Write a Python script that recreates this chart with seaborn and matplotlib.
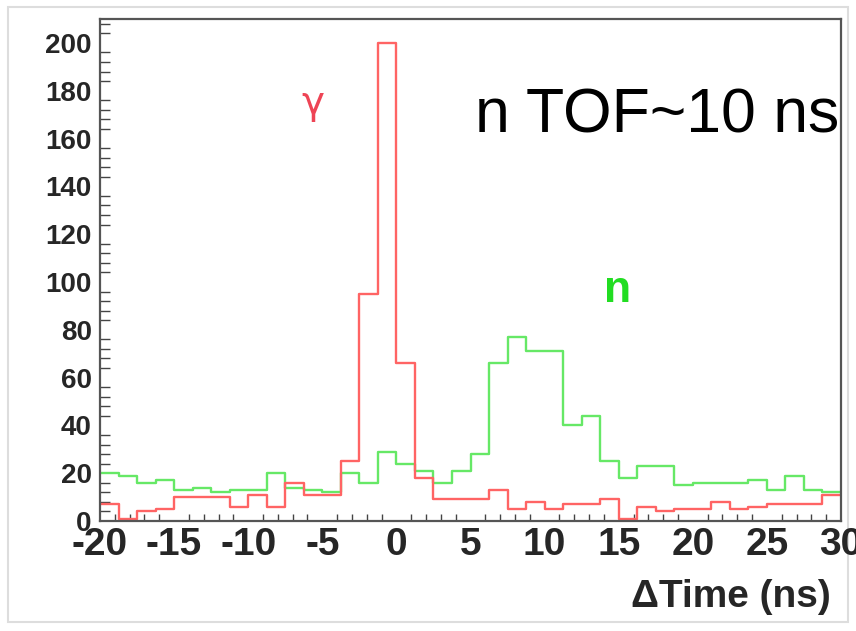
import numpy as np
import pandas as pd
import matplotlib
matplotlib.use("Agg")
import matplotlib.pyplot as plt
from matplotlib.ticker import MultipleLocator
from matplotlib.patches import Rectangle
import seaborn as sns

# ---- data (40 bins of 1.25 ns from -20 to 30 ns) ----
bin_width = 1.25
bin_range = (-20, 30)
bin_centers = np.arange(-20 + bin_width / 2, 30, bin_width)
gamma_counts = [7, 1, 4, 5, 10, 10, 10, 6, 11, 6,
                16, 11, 11, 25, 95, 200, 66, 18, 9, 9,
                9, 13, 5, 8, 5, 7, 7, 9, 1, 6,
                4, 5, 5, 8, 5, 6, 7, 7, 7, 11]
neutron_counts = [20, 19, 16, 17, 13, 14, 12, 13, 13, 20,
                  14, 13, 12, 20, 16, 29, 24, 21, 16, 21,
                  28, 66, 77, 71, 71, 40, 44, 25, 18, 23,
                  23, 15, 16, 16, 16, 17, 13, 19, 13, 12]
x_ticks = [-20, -15, -10, -5, 0, 5, 10, 15, 20, 25, 30]
y_ticks = [0, 20, 40, 60, 80, 100, 120, 140, 160, 180, 200]

df = pd.DataFrame({"t": bin_centers, "gamma": gamma_counts, "n": neutron_counts})

sns.set_style("white")
plt.rcParams["font.family"] = ["Liberation Sans", "DejaVu Sans"]
plt.rcParams["axes.unicode_minus"] = False

W, H = 856, 631
fig = plt.figure(figsize=(W / 100, H / 100), dpi=100)
ax = fig.add_axes([100 / W, 1 - 521 / H, 741 / W, 502 / H])

sns.histplot(data=df, x="t", weights="n", binwidth=bin_width, binrange=bin_range,
             element="step", fill=False, color="#66e866", linewidth=1.7, ax=ax)
sns.histplot(data=df, x="t", weights="gamma", binwidth=bin_width, binrange=bin_range,
             element="step", fill=False, color="#ff6464", linewidth=1.7, ax=ax)

ax.set_xlim(-20, 30)
ax.set_ylim(0, 210)
ax.set_xticks(x_ticks)
ax.set_yticks(y_ticks)
ax.xaxis.set_minor_locator(MultipleLocator(1))
ax.yaxis.set_minor_locator(MultipleLocator(4))
ax.tick_params(axis="x", which="major", direction="in", length=11, width=1.2,
               color="#444444", labelsize=28, pad=4)
ax.tick_params(axis="x", which="minor", direction="in", length=5, width=1.0,
               color="#444444", bottom=True)
ax.tick_params(axis="y", which="major", direction="in", length=15, width=1.2,
               color="#444444", labelsize=20, pad=6)
ax.tick_params(axis="y", which="minor", direction="in", length=7, width=1.0,
               color="#444444", left=True)
for lab in ax.get_xticklabels() + ax.get_yticklabels():
    lab.set_fontweight("bold")
for s in ax.spines.values():
    s.set_color("#555555")
    s.set_linewidth(1.6)

ax.set_ylabel("")
ax.set_xlabel("ΔTime (ns)", fontsize=28, fontweight="bold", ha="right", va="center")
ax.xaxis.set_label_coords((831 - 100) / 741, (521 - 597) / 502)

ax.text((313 - 100) / 741, (521 - 103) / 502, "γ", transform=ax.transAxes,
        color="#ee4455", fontsize=28, ha="center", va="center",
        family=["DejaVu Sans"])
ax.text((618 - 100) / 741, (521 - 291) / 502, "n", transform=ax.transAxes,
        color="#22dd22", fontsize=32, fontweight="bold", ha="center", va="center")
fig.text(475 / W, 1 - 132 / H, "n TOF~10 ns", color="black", fontsize=45,
         ha="left", va="baseline")

fig.patches.append(Rectangle((8 / W, 1 - 622 / H), 840 / W, 615 / H,
                             transform=fig.transFigure, fill=False,
                             edgecolor="#dddddd", linewidth=1.5, zorder=-1))

fig.savefig("out.png", dpi=100, facecolor="white")
